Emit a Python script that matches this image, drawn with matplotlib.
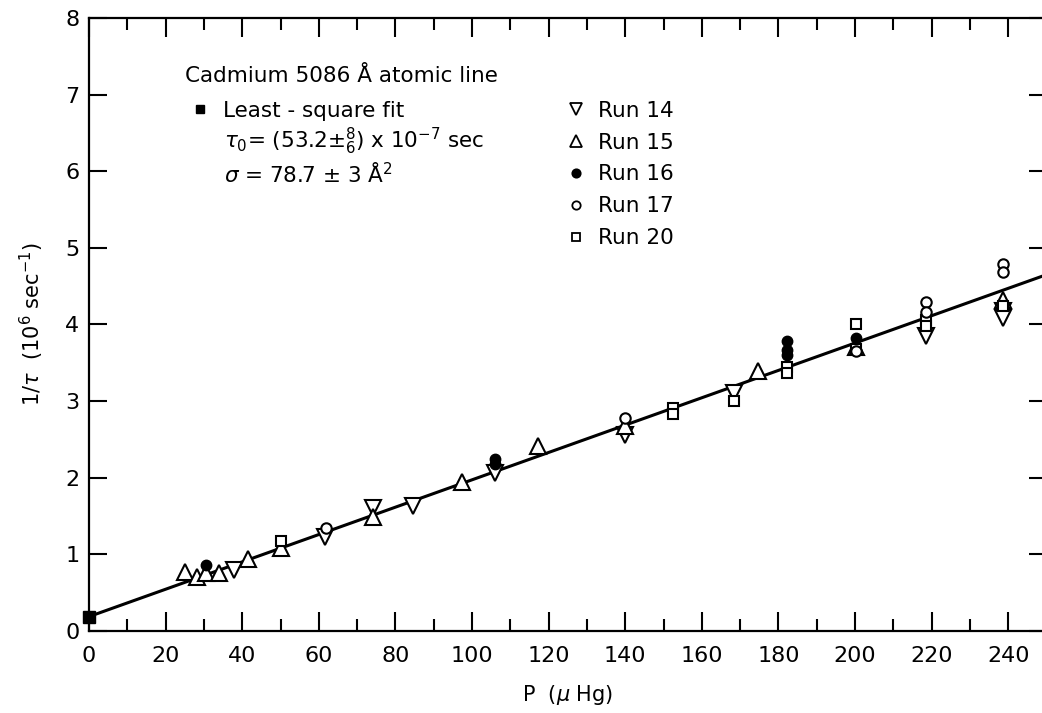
import matplotlib.pyplot as plt
from matplotlib.lines import Line2D

# Pressure (micro Hg) and decay rate 1/tau (10^6 sec^-1) for each run
run14_p = [37.9, 61.5, 74.2, 84.7, 106.0, 140.0, 168.4, 218.4, 238.5, 238.5]
run14_r = [0.80, 1.23, 1.60, 1.63, 2.06, 2.56, 3.10, 3.85, 4.18, 4.08]

run15_p = [25.1, 28.1, 30.5, 34.0, 41.6, 50.2, 74.2, 97.5, 117.3, 140.0, 174.6, 200.3, 238.5]
run15_r = [0.77, 0.71, 0.76, 0.76, 0.94, 1.08, 1.49, 1.95, 2.41, 2.68, 3.39, 3.71, 4.32]

run16_p = [30.5, 106.0, 106.0, 182.3, 182.3, 182.3, 200.3]
run16_r = [0.86, 2.24, 2.18, 3.79, 3.67, 3.60, 3.83]

run17_p = [61.8, 140.0, 200.3, 218.4, 218.4, 238.5, 238.5]
run17_r = [1.34, 2.78, 3.66, 4.29, 4.16, 4.79, 4.68]

run20_p = [50.2, 152.4, 152.4, 168.4, 182.3, 182.3, 200.3, 200.3, 218.4, 218.4, 238.5]
run20_r = [1.18, 2.91, 2.83, 3.00, 3.45, 3.37, 4.01, 3.68, 4.06, 3.98, 4.24]

# Least-square fit: intercept = 1/tau0 with tau0 = 53.2e-7 sec
tau0 = 5.32
fit_intercept = 1.0 / tau0
fit_slope = 0.01785
fit_p = [0.0, 250.0]

x_ticks = [0, 20, 40, 60, 80, 100, 120, 140, 160, 180, 200, 220, 240]
y_ticks = [0, 1, 2, 3, 4, 5, 6, 7, 8]

plt.rcParams['font.family'] = ['DejaVu Sans']
plt.rcParams['mathtext.fontset'] = 'dejavusans'

fig = plt.figure(figsize=(10.42, 7.13), dpi=100)
ax = fig.add_axes([0.0854, 0.115, 0.919, 0.8598])

# Fit line and the 1/tau0 point at zero pressure
fit_r = [fit_intercept + fit_slope * p for p in fit_p]
ax.plot(fit_p, fit_r, color='black', lw=2.2, zorder=2)
ax.plot([0], [fit_intercept], marker='s', ms=8, color='black', ls='none',
        clip_on=False, zorder=4)

open_style = dict(ls='none', mfc='white', mec='black', mew=1.5, zorder=3)
ax.plot(run14_p, run14_r, marker='v', ms=11, **open_style)
ax.plot(run15_p, run15_r, marker='^', ms=11, **open_style)
ax.plot(run20_p, run20_r, marker='s', ms=7, **open_style)
ax.plot(run17_p, run17_r, marker='o', ms=7.5, **open_style)
ax.plot(run16_p, run16_r, marker='o', ms=7.5, ls='none', color='black', zorder=3)

ax.set_xlim(0, 250)
ax.set_ylim(0, 8)
ax.set_xticks(x_ticks)
ax.set_xticks([t + 10 for t in x_ticks], minor=True)
ax.set_yticks(y_ticks)

ax.tick_params(axis='both', which='both', direction='in', top=True, right=True,
               width=1.5, labelsize=16)
ax.tick_params(axis='x', which='major', length=14, pad=11)
ax.tick_params(axis='x', which='minor', length=8.5)
ax.tick_params(axis='y', which='major', length=13, pad=7)
for s in ax.spines.values():
    s.set_linewidth(1.6)

ax.set_xlabel(r'P  ($\mu$ Hg)', fontsize=15, labelpad=12)
ax.set_ylabel(r'1/$\tau$  (10$^6$ sec$^{-1}$)', fontsize=15, labelpad=14)

# Title block and legends
fs = 15.5
ax.text(0.10, 0.905, 'Cadmium 5086 Å atomic line', transform=ax.transAxes,
        fontsize=fs, va='center', ha='left')

fit_handle = Line2D([], [], ls='none', marker='s', ms=6, color='black')
leg1 = ax.legend([fit_handle], ['Least - square fit'], loc='upper left',
                 bbox_to_anchor=(0.105, 0.865), frameon=False, fontsize=fs,
                 handlelength=1.0, handletextpad=0.55, borderpad=0, borderaxespad=0)
ax.add_artist(leg1)
ax.text(0.141, 0.798, r'$\tau_0$= (53.2$\pm^{8}_{6}$) x 10$^{-7}$ sec',
        transform=ax.transAxes, fontsize=fs, va='center', ha='left')
ax.text(0.141, 0.7455, r'$\sigma$ = 78.7 $\pm$ 3 Å$^2$',
        transform=ax.transAxes, fontsize=fs, va='center', ha='left')

mk = dict(ls='none', mec='black', mew=1.3)
run_handles = [Line2D([], [], marker='v', ms=8, mfc='white', **mk),
               Line2D([], [], marker='^', ms=8, mfc='white', **mk),
               Line2D([], [], marker='o', ms=6, mfc='black', **mk),
               Line2D([], [], marker='o', ms=6, mfc='white', **mk),
               Line2D([], [], marker='s', ms=5.5, mfc='white', **mk)]
run_labels = ['Run 14', 'Run 15', 'Run 16', 'Run 17', 'Run 20']
ax.legend(run_handles, run_labels, loc='upper left', bbox_to_anchor=(0.497, 0.865),
          frameon=False, fontsize=fs, handlelength=1.0, handletextpad=0.55,
          labelspacing=0.55, borderpad=0, borderaxespad=0)

fig.savefig('out.png', dpi=100)
